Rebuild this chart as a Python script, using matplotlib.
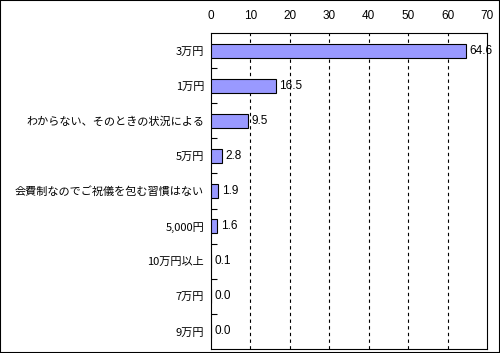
import matplotlib
matplotlib.use("Agg")
import matplotlib.pyplot as plt
from matplotlib.patches import Rectangle
import numpy as np

plt.rcParams['font.family'] = ['Noto Sans CJK JP', 'DejaVu Sans']
numfont = ['Liberation Sans Narrow', 'Liberation Sans', 'DejaVu Sans']

categories = ["3万円", "1万円", "わからない、そのときの状況による", "5万円",
              "会費制なのでご祝儀を包む習慣はない", "5,000円", "10万円以上", "7万円", "9万円"]
values = [64.6, 16.5, 9.5, 2.8, 1.9, 1.6, 0.1, 0.0, 0.0]
xticks = [0, 10, 20, 30, 40, 50, 60, 70]

fig = plt.figure(figsize=(5.0, 3.53), dpi=100)
ax = fig.add_axes([0.422, 0.0113, 0.552, 0.8952])

n = len(categories)
y = np.arange(n)
ax.barh(y, values, height=0.4, color="#9999FF", edgecolor="black", linewidth=0.8, zorder=3)
for yi, v in zip(y, values):
    ax.annotate(f"{v:.1f}", xy=(v, yi), xytext=(2.5, 0), textcoords="offset points",
                va="center", ha="left", fontsize=8.5, family=numfont, zorder=4)

ax.set_xlim(0, 70)
ax.set_ylim(n - 0.5, -0.5)
ax.set_xticks(xticks)
ax.set_xticklabels([str(t) for t in xticks], family=numfont, fontsize=8.5)
ax.xaxis.tick_top()
ax.tick_params(axis='x', length=0, pad=8)
ax.set_yticks(y)
ax.set_yticklabels(categories)
ax.tick_params(axis='y', which='major', length=0, labelsize=8, pad=5)
ax.set_yticks(np.arange(0.5, n - 0.5, 1), minor=True)
ax.tick_params(axis='y', which='minor', direction='in', length=4, width=0.8)
for gx in xticks[1:-1]:
    ax.axvline(gx, color="black", linestyle=(0, (3, 3)), linewidth=0.8, zorder=1)
for s in ax.spines.values():
    s.set_linewidth(0.8)

fig.patches.append(Rectangle((0, 0), 1, 1, transform=fig.transFigure, fill=False,
                             edgecolor="black", linewidth=1.5))
fig.savefig("out.png", dpi=100)
